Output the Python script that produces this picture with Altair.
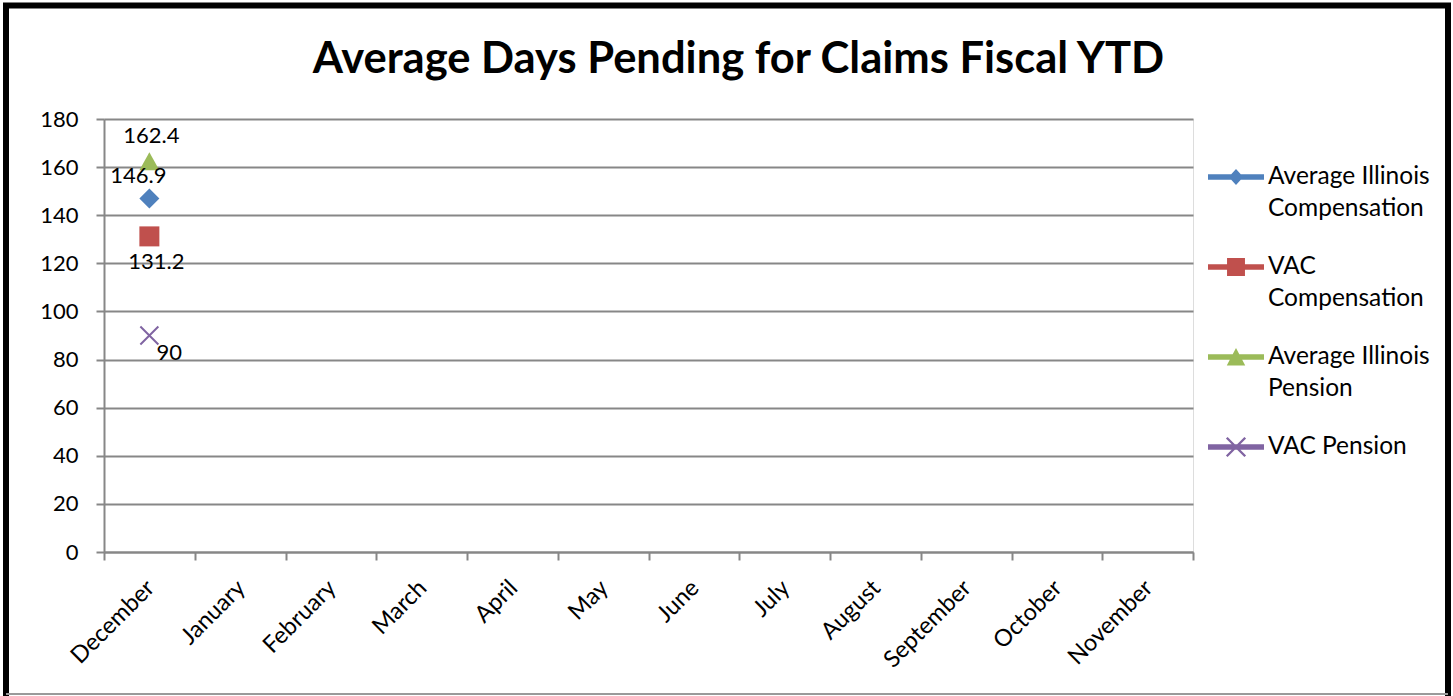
import altair as alt
import pandas as pd

# ---- data ----
months = ["December", "January", "February", "March", "April", "May",
          "June", "July", "August", "September", "October", "November"]
series = ["Average Illinois Compensation", "VAC Compensation",
          "Average Illinois Pension", "VAC Pension"]
december_days = [146.9, 131.2, 162.4, 90]
y_ticks = [0, 20, 40, 60, 80, 100, 120, 140, 160, 180]

# ---- styles ----
colors = ["#4F81BD", "#C0504D", "#9BBB59", "#8064A2"]
FONT = "Lato"
GRAY = "#878787"

marker_paths = [
    "M0,-1L1,0L0,1L-1,0Z",
    "M-1,-1H1V1H-1Z",
    "M0,-0.9L1,0.9H-1Z",
    "M-0.83,-0.97L0.97,0.83L0.83,0.97L-0.97,-0.83Z"
    "M0.97,-0.83L-0.83,0.97L-0.97,0.83L0.83,-0.97Z",
]
LINE = "M-1,-0.1H1V0.1H-1Z"
legend_paths = [
    LINE + "M0,-0.29L0.26,0L0,0.29L-0.26,0Z",
    LINE + "M-0.32,-0.32H0.32V0.32H-0.32Z",
    LINE + "M0,-0.32L0.33,0.3H-0.33Z",
    LINE + "M-0.3,-0.36L0.36,0.3L0.3,0.36L-0.36,-0.3Z"
    "M0.36,-0.3L-0.3,0.36L-0.36,0.3L0.3,-0.36Z",
]
label_offsets = {  # (dx, dy) of each data label
    "Average Illinois Compensation": (-11, -23),
    "VAC Compensation": (7, 26),
    "Average Illinois Pension": (2, -25),
    "VAC Pension": (20, 17),
}

df = pd.DataFrame({"month": ["December"] * len(series),
                   "series": series,
                   "days": december_days})

x_enc = alt.X(
    "month:N",
    sort=months,
    scale=alt.Scale(type="band", domain=months, paddingInner=0, paddingOuter=0),
    axis=alt.Axis(title=None, grid=False, tickBand="extent", tickSize=8,
                  tickColor=GRAY, tickWidth=2, domainColor=GRAY, domainWidth=2,
                  labelAngle=-45, labelAlign="right", labelBaseline="middle",
                  labelPadding=24, labelOffset=1, labelFont=FONT,
                  labelFontSize=23.5, labelColor="black"),
)
y_enc = alt.Y(
    "days:Q",
    scale=alt.Scale(domain=[0, 180], nice=False, zero=True),
    axis=alt.Axis(title=None, values=y_ticks, grid=True, gridColor=GRAY,
                  gridWidth=2, tickSize=8, tickColor=GRAY, tickWidth=2,
                  domainColor=GRAY, domainWidth=2, labelPadding=18,
                  labelFont=FONT, labelFontSize=22, labelColor="black"),
)

points = alt.Chart(df).mark_point(filled=True, opacity=1, size=400, strokeWidth=0).encode(
    x=x_enc,
    y=y_enc,
    color=alt.Color("series:N", scale=alt.Scale(domain=series, range=colors), legend=None),
    shape=alt.Shape("series:N", scale=alt.Scale(domain=series, range=marker_paths), legend=None),
)

legend = alt.Legend(
    title=None, orient="none", legendX=1104, legendY=30, padding=0,
    symbolSize=3136, symbolStrokeWidth=0, labelFont=FONT, labelFontSize=24.5,
    labelColor="black", labelLimit=400, labelOffset=4, rowPadding=18,
    labelBaseline="middle",
    labelExpr=("datum.label == 'Average Illinois Compensation' ? ['Average Illinois', 'Compensation'] : "
               "datum.label == 'VAC Compensation' ? ['VAC', 'Compensation'] : "
               "datum.label == 'Average Illinois Pension' ? ['Average Illinois', 'Pension'] : "
               "[datum.label, '']"),
)

legend_layer = alt.Chart(pd.DataFrame({"series": series})).mark_point(
    filled=True, opacity=1, strokeWidth=0
).encode(
    y=alt.Y("days:Q"),
    color=alt.Color("series:N", scale=alt.Scale(domain=series, range=colors), legend=legend),
    shape=alt.Shape("series:N", scale=alt.Scale(domain=series, range=legend_paths), legend=legend),
)

text_layers = []
for s in series:
    dx, dy = label_offsets[s]
    text_layers.append(
        alt.Chart(df).transform_filter(alt.datum.series == s).mark_text(
            dx=dx, dy=dy, font=FONT, fontSize=22, color="black"
        ).encode(x=x_enc, y=y_enc, text=alt.Text("days:Q"))
    )

one = alt.Data(values=[{"k": 1}])
frame = alt.Chart(one).mark_rect(filled=False, stroke="black", strokeWidth=6).encode(
    x=alt.value(-98), x2=alt.value(1344), y=alt.value(-113.5), y2=alt.value(590)
)
bottom = alt.Chart(one).mark_rule(stroke="#9a9a9a", strokeWidth=2).encode(
    x=alt.value(-98), x2=alt.value(1344), y=alt.value(575)
)

chart = alt.layer(points, *text_layers, legend_layer, frame, bottom).resolve_scale(
    color="independent", shape="independent"
).properties(
    width=1089, height=433,
    padding={"left": 104, "top": 119, "right": 260, "bottom": 144},
    autosize=alt.AutoSizeParams(type="none"),
    background="white",
    title=alt.TitleParams(
        text="Average Days Pending for Claims Fiscal YTD",
        font=FONT, fontSize=43.5, fontWeight="bold", color="black",
        anchor="middle", frame="group", dx=90, dy=114, baseline="alphabetic", offset=0,
    ),
).configure_view(stroke=None).configure(style={"guide-label": {"lineHeight": 32}})

chart.save("out.html", embed_options={"renderer": "svg", "actions": False})
